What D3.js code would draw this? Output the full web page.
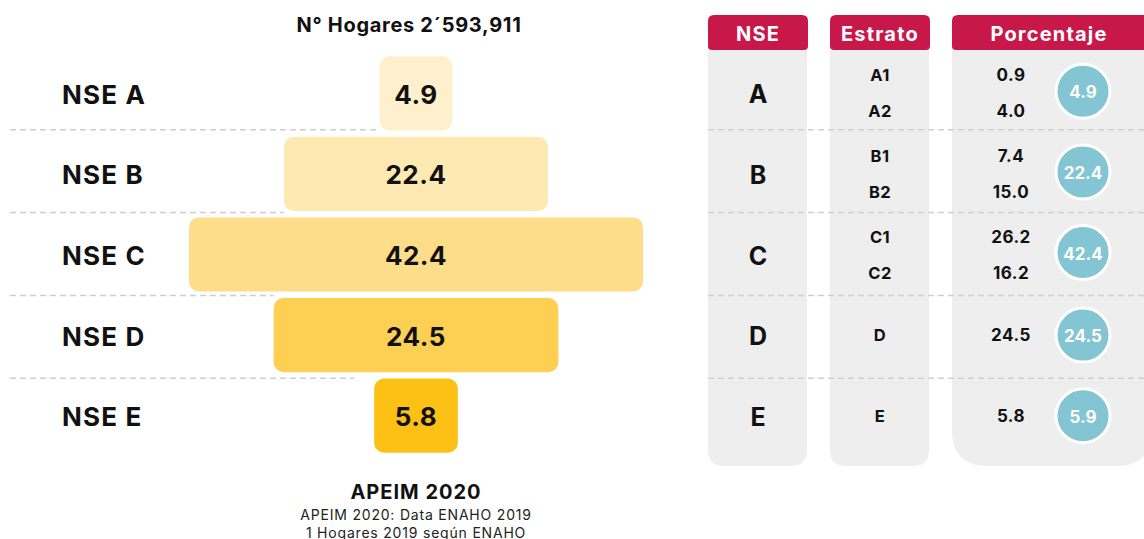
<!DOCTYPE html>
<html>
<head>
<meta charset="utf-8">
<script src="https://cdn.jsdelivr.net/npm/d3@7"></script>
<style>
  html, body { margin: 0; padding: 0; background: #ffffff; }
  svg { display: block; font-family: Inter, "Open Sans", sans-serif; }
</style>
</head>
<body>
<svg id="chart" width="1144" height="539"></svg>
<script>
// ---- Data ----
const categories = ["NSE A", "NSE B", "NSE C", "NSE D", "NSE E"];
const nseLetters = ["A", "B", "C", "D", "E"];
const shares = [4.9, 22.4, 42.4, 24.5, 5.8];
const circleValues = [4.9, 22.4, 42.4, 24.5, 5.9];
const strata = [["A1", "A2"], ["B1", "B2"], ["C1", "C2"], ["D"], ["E"]];
const strataValues = [[0.9, 4.0], [7.4, 15.0], [26.2, 16.2], [24.5], [5.8]];
const barColors = ["#FEF0CC", "#FEE9B2", "#FDDC8A", "#FDD053", "#FDC014"];
const headers = ["NSE", "Estrato", "Porcentaje"];
const titleText = "N° Hogares 2´593,911";
const footTitle = "APEIM 2020";
const footLines = ["APEIM 2020: Data ENAHO 2019", "1 Hogares  2019 según ENAHO"];

const fmt = d3.format(".1f");
const svg = d3.select("#chart");

// ---- Scales ----
const y = d3.scaleBand().domain(categories).range([53, 456]).paddingInner(0.08).paddingOuter(0.04);
const rowScale = d3.scaleBand().domain(categories).range([47, 461]);
const w = d3.scalePow().exponent(0.85).domain([0, 42.4]).range([0, 454]);
const cx = 416;

function rr(x, yy, wd, ht, tl, tr, br, bl) {
  return `M${x + tl},${yy} H${x + wd - tr} Q${x + wd},${yy} ${x + wd},${yy + tr} V${yy + ht - br} Q${x + wd},${yy + ht} ${x + wd - br},${yy + ht} H${x + bl} Q${x},${yy + ht} ${x},${yy + ht - bl} V${yy + tl} Q${x},${yy} ${x + tl},${yy} Z`;
}

const rows = categories.map((c, i) => ({
  cat: c, letter: nseLetters[i], share: shares[i], circle: circleValues[i],
  strata: strata[i], strataValues: strataValues[i], color: barColors[i], i
}));
const mid = d => y(d.cat) + y.bandwidth() / 2;

// ---- Title ----
svg.append("text").attr("x", 409).attr("y", 25).attr("text-anchor", "middle")
  .attr("dominant-baseline", "central").attr("font-size", 20).attr("font-weight", 700)
  .attr("letter-spacing", 0.7).attr("fill", "#111").text(titleText);

// ---- Left dashed separators ----
const sepCats = categories.slice(1);
svg.append("g").selectAll("line").data(sepCats).join("line")
  .attr("x1", 10)
  .attr("x2", (c, k) => {
    const a = cx - w(shares[k]) / 2, b = cx - w(shares[k + 1]) / 2;
    return Math.max(a, b) - (k === sepCats.length - 1 ? 20 : 0);
  })
  .attr("y1", c => rowScale(c)).attr("y2", c => rowScale(c))
  .attr("stroke", "#cfcfcf").attr("stroke-width", 1.5).attr("stroke-dasharray", "6,4");

// ---- Bars ----
const bars = svg.append("g").selectAll("g").data(rows).join("g");
bars.append("rect")
  .attr("x", d => cx - w(d.share) / 2).attr("width", d => w(d.share))
  .attr("y", d => y(d.cat)).attr("height", y.bandwidth())
  .attr("rx", 10).attr("fill", d => d.color);
bars.append("text")
  .attr("x", cx).attr("y", d => mid(d) + 1)
  .attr("text-anchor", "middle").attr("dominant-baseline", "central")
  .attr("font-size", 26).attr("font-weight", 700).attr("letter-spacing", 0.5).attr("fill", "#111")
  .text(d => fmt(d.share));
bars.append("text")
  .attr("x", 62).attr("y", d => mid(d) + 1)
  .attr("dominant-baseline", "central")
  .attr("font-size", 26).attr("font-weight", 700).attr("letter-spacing", 1.2).attr("fill", "#111")
  .text(d => d.cat);

// ---- Footer ----
svg.append("text").attr("x", 416).attr("y", 492).attr("text-anchor", "middle")
  .attr("dominant-baseline", "central").attr("font-size", 20).attr("font-weight", 700)
  .attr("letter-spacing", 1).attr("fill", "#111").text(footTitle);
svg.append("g").selectAll("text").data(footLines).join("text")
  .attr("x", 416).attr("y", (d, i) => 514 + i * 18).attr("text-anchor", "middle")
  .attr("dominant-baseline", "central").attr("font-size", 14).attr("font-weight", 400)
  .attr("letter-spacing", 0.8).attr("fill", "#222").text(d => d);

// ---- Table ----
const cols = [
  { x: 708, w: 99, br: 16, bl: 16 },
  { x: 830, w: 99, br: 16, bl: 16 },
  { x: 952, w: 200, br: 36, bl: 36 }
];
const tableTop = 15, headH = 35, bodyBottom = 466;
const tg = svg.append("g");
tg.selectAll("path.body").data(cols).join("path").attr("class", "body")
  .attr("d", c => rr(c.x, tableTop + 10, c.w, bodyBottom - tableTop - 10, 0, 0, c.br, c.bl))
  .attr("fill", "#EEEEEE");
tg.selectAll("path.head").data(cols).join("path").attr("class", "head")
  .attr("d", c => rr(c.x, tableTop, c.w + 1, headH, 6, 6, 4, 4))
  .attr("fill", "#C8184A");
const headCenters = [758, 880, 1049];
tg.selectAll("text.head").data(headers).join("text").attr("class", "head")
  .attr("x", (d, i) => headCenters[i]).attr("y", tableTop + headH / 2 + 1)
  .attr("text-anchor", "middle").attr("dominant-baseline", "central")
  .attr("font-size", 20).attr("font-weight", 700).attr("letter-spacing", 1.2)
  .attr("fill", "#fff").text(d => d);

// table separators
tg.selectAll("line").data(sepCats).join("line")
  .attr("x1", 708).attr("x2", 1144)
  .attr("y1", c => rowScale(c)).attr("y2", c => rowScale(c))
  .attr("stroke", "#d0d0d0").attr("stroke-width", 1.5).attr("stroke-dasharray", "6,4");

const tr = tg.selectAll("g.row").data(rows).join("g").attr("class", "row");
tr.append("text").attr("x", 758).attr("y", d => mid(d) + 1)
  .attr("text-anchor", "middle").attr("dominant-baseline", "central")
  .attr("font-size", 25).attr("font-weight", 700).attr("fill", "#111").text(d => d.letter);
tr.each(function (d) {
  const g = d3.select(this);
  const n = d.strata.length;
  const offs = n === 2 ? [-18, 18] : [0];
  g.selectAll("text.st").data(d.strata).join("text").attr("class", "st")
    .attr("x", 880).attr("y", (s, k) => mid(d) + offs[k])
    .attr("text-anchor", "middle").attr("dominant-baseline", "central")
    .attr("font-size", 16.5).attr("font-weight", 700).attr("letter-spacing", 0.4)
    .attr("fill", "#111").text(s => s);
  g.selectAll("text.sv").data(d.strataValues).join("text").attr("class", "sv")
    .attr("x", 1011).attr("y", (s, k) => mid(d) + offs[k])
    .attr("text-anchor", "middle").attr("dominant-baseline", "central")
    .attr("font-size", 17).attr("font-weight", 700).attr("letter-spacing", 0.5)
    .attr("fill", "#111").text(s => fmt(s));
});
tr.append("circle").attr("cx", 1083).attr("cy", d => mid(d) - (d.strata.length === 2 ? 2 : 0))
  .attr("r", 27).attr("fill", "#84C5D3").attr("stroke", "#fff").attr("stroke-width", 3);
tr.append("text").attr("x", 1083).attr("y", d => mid(d) - (d.strata.length === 2 ? 2 : 0) + 1)
  .attr("text-anchor", "middle").attr("dominant-baseline", "central")
  .attr("font-size", 17).attr("font-weight", 700).attr("fill", "#fff").text(d => fmt(d.circle));
</script>
</body>
</html>
